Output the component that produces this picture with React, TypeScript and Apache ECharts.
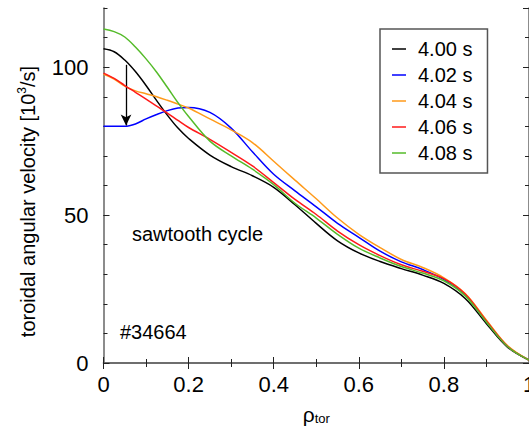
import React, { useEffect, useRef } from "react";
import * as echarts from "echarts";

const FONT = '"Liberation Sans", Arial, Helvetica, sans-serif';

const rho = [0, 0.025, 0.05, 0.075, 0.1, 0.125, 0.15, 0.175, 0.2, 0.25, 0.3, 0.35, 0.4, 0.45, 0.5, 0.55, 0.6, 0.65, 0.7, 0.75, 0.8, 0.85, 0.9, 0.95, 1.0];

const v400 = [106.2, 105.2, 102.4, 98.5, 93.8, 88.7, 83.8, 79.4, 75.9, 70.3, 66.4, 63.3, 59.4, 53.5, 47.2, 41.3, 37.2, 34.3, 31.9, 29.7, 26.9, 21.8, 13.3, 5.3, 1.0];
const v402 = [80.0, 80.0, 80.0, 80.8, 82.5, 84.0, 85.3, 86.2, 86.4, 84.7, 79.4, 71.4, 63.8, 58.2, 52.8, 47.2, 42.5, 37.8, 34.2, 31.6, 28.2, 23.0, 14.0, 5.6, 1.0];
const v404 = [97.6, 96.0, 93.6, 92.0, 91.0, 90.0, 88.8, 87.5, 86.2, 82.5, 78.8, 74.5, 68.2, 61.8, 55.5, 49.0, 43.5, 39.0, 35.0, 32.3, 28.8, 23.5, 14.5, 5.8, 1.0];
const v406 = [98.0, 96.2, 93.8, 91.5, 89.2, 86.8, 84.5, 82.0, 79.6, 75.6, 71.2, 66.6, 61.0, 55.3, 50.2, 44.6, 40.0, 36.3, 33.2, 31.0, 28.5, 23.3, 14.2, 5.6, 1.0];
const v408 = [112.9, 112.0, 110.2, 106.8, 102.8, 98.3, 93.2, 88.0, 83.3, 75.0, 70.0, 65.5, 60.3, 54.0, 49.0, 43.5, 38.8, 35.5, 32.6, 30.4, 27.8, 22.7, 13.8, 5.5, 1.0];

const seriesNames = ["4.00 s", "4.02 s", "4.04 s", "4.06 s", "4.08 s"];
const seriesValues = [v400, v402, v404, v406, v408];
const seriesColors = ["#000000", "#0000ff", "#ff9a1a", "#ff1a1a", "#55bb2a"];

const arrowRho = 0.053;
const arrowFrom = 100.8;
const arrowTo = 80.3;

const AXIS_COLOR = "#666666";

export default function App() {
  const ref = useRef<HTMLDivElement>(null);
  useEffect(() => {
    if (!ref.current) return;
    const chart = echarts.init(ref.current, undefined, { renderer: "svg" });

    const tickBase = (len: number) => ({
      show: true,
      inside: true,
      length: len,
      lineStyle: { color: "#222", width: 1 },
    });

    const series: any[] = seriesNames.map((name, i) => ({
      name,
      type: "line",
      data: rho.map((r, j) => [r, seriesValues[i][j]]),
      smooth: 0.35,
      symbol: "none",
      showSymbol: false,
      lineStyle: { color: seriesColors[i], width: 1.5 },
      itemStyle: { color: seriesColors[i] },
      emphasis: { disabled: true },
      silent: true,
      z: 2 + i,
    }));
    series[0].markLine = {
      silent: true,
      symbol: ["none", "arrow"],
      symbolSize: [8, 11],
      label: { show: false },
      emphasis: { disabled: true },
      lineStyle: { color: "#000", width: 1.3, type: "solid" },
      data: [[{ coord: [arrowRho, arrowFrom] }, { coord: [arrowRho, arrowTo] }]],
    };

    const option: any = {
      animation: false,
      textStyle: { fontFamily: FONT },
      grid: { left: 103.5, right: 0, top: 8, bottom: 69, containLabel: false, outerBoundsMode: "none" },
      legend: {
        orient: "vertical",
        left: 380,
        top: 29,
        padding: [10, 15, 10, 12],
        itemGap: 6,
        itemWidth: 14,
        itemHeight: 1.5,
        icon: "rect",
        borderColor: "#555",
        borderWidth: 1.5,
        backgroundColor: "#fff",
        textStyle: { fontSize: 20, color: "#000", fontFamily: FONT, lineHeight: 20, padding: [0, 0, 0, 7] },
        data: seriesNames,
      },
      xAxis: [
        {
          type: "value",
          min: 0,
          max: 1,
          interval: 0.2,
          position: "bottom",
          axisLine: { show: true, lineStyle: { color: AXIS_COLOR, width: 1.5 } },
          axisTick: tickBase(6),
          minorTick: { show: true, splitNumber: 2, length: 4, lineStyle: { color: "#222", width: 1 } },
          splitLine: { show: false },
          minorSplitLine: { show: false },
          axisLabel: { fontSize: 22, color: "#000", margin: 10, fontFamily: FONT },
          name: "{r|ρ}{s|tor}",
          nameLocation: "middle",
          nameGap: 40,
          nameTextStyle: {
            rich: {
              r: { fontSize: 21, color: "#000", fontFamily: FONT, lineHeight: 22, verticalAlign: "middle" },
              s: { fontSize: 13, color: "#000", fontFamily: FONT, verticalAlign: "bottom" },
            },
          },
        },
        {
          type: "value",
          min: 0,
          max: 1,
          interval: 0.2,
          position: "top",
          axisLine: { show: true, lineStyle: { color: AXIS_COLOR, width: 1.5 } },
          axisTick: tickBase(6),
          minorTick: { show: true, splitNumber: 2, length: 4, lineStyle: { color: "#222", width: 1 } },
          splitLine: { show: false },
          axisLabel: { show: false },
        },
      ],
      yAxis: [
        {
          type: "value",
          min: 0,
          max: 120,
          interval: 50,
          position: "left",
          axisLine: { show: true, lineStyle: { color: AXIS_COLOR, width: 1.5 } },
          axisTick: tickBase(6),
          splitLine: { show: false },
          axisLabel: { fontSize: 22, color: "#000", margin: 15, fontFamily: FONT, showMaxLabel: false },
          name: "toroidal angular velocity [10{sup|3}/s]",
          nameLocation: "middle",
          nameGap: 64,
          nameTextStyle: {
            fontSize: 20,
            color: "#000",
            fontFamily: FONT,
            padding: [0, 32, 0, 0],
            rich: {
              sup: { fontSize: 12, color: "#000", fontFamily: FONT, verticalAlign: "top" },
            },
            lineHeight: 24,
          },
        },
        {
          type: "value",
          min: 0,
          max: 120,
          interval: 10,
          position: "left",
          axisLine: { show: false },
          axisTick: tickBase(4),
          splitLine: { show: false },
          axisLabel: { show: false },
        },
        {
          type: "value",
          min: 0,
          max: 120,
          interval: 10,
          position: "right",
          axisLine: { show: true, lineStyle: { color: AXIS_COLOR, width: 1.5 } },
          axisTick: tickBase(4),
          splitLine: { show: false },
          axisLabel: { show: false },
        },
        {
          type: "value",
          min: 0,
          max: 120,
          interval: 50,
          position: "right",
          axisLine: { show: false },
          axisTick: tickBase(6),
          splitLine: { show: false },
          axisLabel: { show: false },
        },
      ],
      graphic: [
        {
          type: "text",
          x: 132,
          y: 234,
          silent: true,
          style: { text: "sawtooth cycle", fontSize: 20, fontFamily: FONT, fill: "#000", verticalAlign: "middle" },
        },
        {
          type: "text",
          x: 120,
          y: 332,
          silent: true,
          style: { text: "#34664", fontSize: 20, fontFamily: FONT, fill: "#000", verticalAlign: "middle" },
        },
      ],
      series,
    };
    chart.setOption(option);
    return () => chart.dispose();
  }, []);
  return (
    <div
      ref={ref}
      style={{ position: "absolute", left: 0, top: 0, width: 529, height: 432, background: "#fff" }}
    />
  );
}
